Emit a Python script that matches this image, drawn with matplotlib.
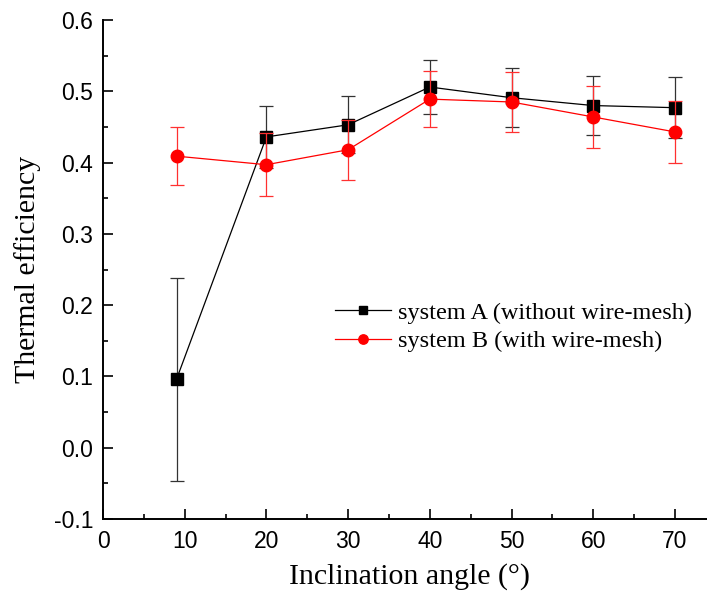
import matplotlib
matplotlib.use('Agg')
import matplotlib.pyplot as plt
from matplotlib.ticker import MultipleLocator, FormatStrFormatter

plt.rcParams['axes.unicode_minus'] = False

# Data
angle = [9, 20, 30, 40, 50, 60, 70]
eff_a = [0.096, 0.436, 0.453, 0.506, 0.491, 0.480, 0.477]
err_a = [0.142, 0.043, 0.040, 0.038, 0.041, 0.042, 0.043]
eff_b = [0.409, 0.397, 0.418, 0.489, 0.485, 0.464, 0.443]
err_b = [0.041, 0.044, 0.042, 0.039, 0.042, 0.043, 0.043]

label_a = 'system A (without wire-mesh)'
label_b = 'system B (with wire-mesh)'

fig = plt.figure(figsize=(7.07, 6.01), dpi=100)
ax = fig.add_axes([103 / 707, 82 / 601, 75 * 8.17 / 707, 499 / 601])

# System A
ax.errorbar(angle, eff_a, yerr=err_a, fmt='none', ecolor='#333333',
            elinewidth=0.9, capsize=5, capthick=0.9, zorder=2)
line_a, = ax.plot(angle, eff_a, color='black', lw=0.9, marker='s',
                  markersize=8, markerfacecolor='black', markeredgecolor='black',
                  zorder=3)

# System B
ax.errorbar(angle, eff_b, yerr=err_b, fmt='none', ecolor='#ff3030',
            elinewidth=0.9, capsize=5, capthick=0.9, zorder=4)
line_b, = ax.plot(angle, eff_b, color='red', lw=0.9, marker='o',
                  markersize=9, markerfacecolor='red', markeredgecolor='red',
                  zorder=5)

ax.set_xlim(0, 75)
ax.set_ylim(-0.1, 0.6)

ax.xaxis.set_major_locator(MultipleLocator(10))
ax.xaxis.set_minor_locator(MultipleLocator(5))
ax.yaxis.set_major_locator(MultipleLocator(0.1))
ax.yaxis.set_minor_locator(MultipleLocator(0.05))
ax.yaxis.set_major_formatter(FormatStrFormatter('%.1f'))

# Only left and bottom spines, ticks inward
for side in ['top', 'right']:
    ax.spines[side].set_visible(False)
for side in ['left', 'bottom']:
    ax.spines[side].set_linewidth(1.4)

ax.tick_params(which='major', direction='in', length=7, width=1.2,
               labelsize=16.5, top=False, right=False)
ax.tick_params(which='minor', direction='in', length=3.6, width=1.2,
               top=False, right=False)
ax.tick_params(axis='x', which='major', pad=8)
ax.tick_params(axis='y', which='major', pad=7)
for lab in ax.get_xticklabels() + ax.get_yticklabels():
    lab.set_family('Liberation Sans')

ax.set_xlabel('Inclination angle (°)', family='Liberation Serif',
              fontsize=21.5, labelpad=7)
ax.set_ylabel('Thermal efficiency', family='Liberation Serif',
              fontsize=21.5, labelpad=9)

ax.legend([line_a, line_b], [label_a, label_b], loc='center left',
          bbox_to_anchor=(335 / 707, 1 - 327 / 601), bbox_transform=fig.transFigure,
          frameon=False, borderpad=0, borderaxespad=0, handlelength=2.3,
          handletextpad=0.3, labelspacing=0.27, numpoints=1, markerscale=0.75,
          prop={'family': 'Liberation Serif', 'size': 17.5})

fig.savefig('out.png', dpi=100, facecolor='white')
